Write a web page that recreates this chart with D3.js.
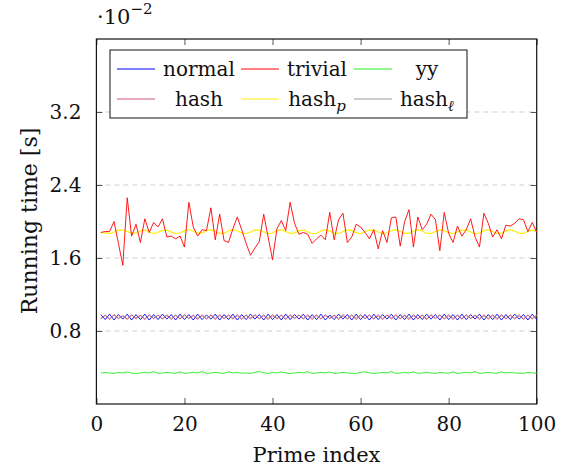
<!DOCTYPE html>
<html><head><meta charset="utf-8">
<script src="https://cdn.jsdelivr.net/npm/d3@7"></script>
<style>body{margin:0;background:#fff}svg{display:block}text{font-family:"DejaVu Serif",serif;fill:#111}</style>
</head><body><svg id="c" width="565" height="471"></svg>
<script>
const xTicks=[0,20,40,60,80,100];
const yTicks=[0.8,1.6,2.4,3.2];
const seriesNames=["normal","trivial","yy","hash","hash_p","hash_l"];
const trivial=[1.88,1.89,1.89,2.00,1.76,1.52,2.26,1.84,1.97,1.77,2.03,1.88,1.99,1.94,2.03,1.83,1.84,1.81,1.84,1.72,2.21,1.94,1.84,1.91,1.90,2.15,1.80,2.08,1.79,1.77,1.92,2.05,1.91,1.76,1.63,1.71,1.78,2.08,1.83,1.58,1.92,2.01,1.90,2.21,1.98,1.86,1.88,1.86,1.76,1.81,1.85,1.80,2.10,1.80,2.02,2.09,1.77,1.83,1.97,1.94,1.88,1.81,1.91,1.70,1.90,1.77,2.04,2.05,1.73,2.00,2.13,1.72,2.05,1.91,1.97,2.08,2.02,1.68,2.10,1.87,1.77,1.95,1.84,1.91,2.03,1.83,1.72,2.09,1.98,1.83,1.91,1.81,1.96,1.95,1.98,2.03,2.02,1.89,1.99,1.88];
const hashP=[1.88,1.875,1.87,1.885,1.905,1.905,1.89,1.87,1.875,1.9,1.905,1.885,1.87,1.88,1.9,1.905,1.885,1.868,1.875,1.9,1.91,1.895,1.872,1.875,1.9,1.908,1.89,1.87,1.872,1.895,1.908,1.898,1.875,1.868,1.885,1.905,1.905,1.885,1.868,1.875,1.9,1.908,1.89,1.87,1.875,1.9,1.905,1.888,1.868,1.872,1.895,1.908,1.895,1.872,1.87,1.89,1.908,1.9,1.878,1.868,1.885,1.905,1.905,1.885,1.868,1.875,1.9,1.908,1.89,1.87,1.872,1.895,1.908,1.895,1.872,1.87,1.89,1.908,1.9,1.878,1.868,1.885,1.905,1.905,1.885,1.868,1.875,1.9,1.908,1.89,1.87,1.872,1.895,1.908,1.895,1.872,1.87,1.89,1.905,1.89];
const normal=[0.98,0.925,0.985,0.92,0.98,0.93,0.985,0.92,0.98,0.925,0.985,0.92,0.98,0.925,0.985,0.93,0.98,0.92,0.985,0.925,0.98,0.92,0.985,0.925,0.975,0.93,0.985,0.92,0.98,0.925,0.985,0.92,0.98,0.925,0.985,0.93,0.98,0.92,0.985,0.925,0.98,0.92,0.985,0.925,0.98,0.93,0.985,0.92,0.98,0.925,0.985,0.92,0.975,0.925,0.985,0.93,0.98,0.92,0.985,0.925,0.98,0.92,0.985,0.925,0.98,0.93,0.985,0.92,0.98,0.925,0.985,0.92,0.98,0.925,0.985,0.93,0.98,0.92,0.985,0.925,0.98,0.92,0.985,0.925,0.98,0.93,0.985,0.92,0.98,0.925,0.985,0.92,0.98,0.925,0.985,0.93,0.98,0.92,0.985,0.925];
const hash=[0.93,0.975,0.925,0.98,0.935,0.97,0.925,0.98,0.93,0.975,0.925,0.98,0.935,0.975,0.93,0.98,0.925,0.975,0.93,0.98,0.935,0.97,0.925,0.98,0.93,0.975,0.925,0.98,0.935,0.975,0.93,0.98,0.925,0.975,0.93,0.98,0.935,0.97,0.925,0.98,0.93,0.975,0.925,0.98,0.935,0.975,0.93,0.98,0.925,0.975,0.93,0.98,0.935,0.97,0.925,0.98,0.93,0.975,0.925,0.98,0.935,0.975,0.93,0.98,0.925,0.975,0.93,0.98,0.935,0.97,0.925,0.98,0.93,0.975,0.925,0.98,0.935,0.975,0.93,0.98,0.925,0.975,0.93,0.98,0.935,0.97,0.925,0.98,0.93,0.975,0.925,0.98,0.935,0.975,0.93,0.98,0.925,0.975,0.93,0.975];
const hashL=[0.94,0.97,0.935,0.975,0.94,0.965,0.935,0.975,0.945,0.97,0.935,0.97,0.94,0.975,0.935,0.965,0.94,0.975,0.935,0.97,0.94,0.975,0.94,0.965,0.935,0.975,0.94,0.97,0.935,0.975,0.94,0.965,0.935,0.975,0.945,0.97,0.935,0.975,0.94,0.965,0.94,0.975,0.935,0.97,0.94,0.975,0.935,0.965,0.94,0.975,0.935,0.97,0.94,0.975,0.94,0.965,0.935,0.975,0.94,0.97,0.935,0.975,0.94,0.965,0.935,0.975,0.945,0.97,0.935,0.975,0.94,0.965,0.94,0.975,0.935,0.97,0.94,0.975,0.935,0.965,0.94,0.975,0.935,0.97,0.94,0.975,0.94,0.965,0.935,0.975,0.94,0.97,0.935,0.975,0.94,0.965,0.935,0.975,0.94,0.97];
const yy=[0.34,0.345,0.34,0.335,0.348,0.34,0.352,0.338,0.335,0.34,0.346,0.34,0.355,0.336,0.34,0.346,0.34,0.338,0.352,0.335,0.34,0.347,0.34,0.356,0.335,0.34,0.346,0.34,0.336,0.352,0.34,0.346,0.338,0.34,0.335,0.347,0.356,0.34,0.335,0.346,0.34,0.352,0.34,0.335,0.34,0.347,0.34,0.355,0.335,0.34,0.346,0.34,0.352,0.335,0.34,0.346,0.34,0.338,0.335,0.347,0.352,0.34,0.335,0.34,0.346,0.34,0.356,0.335,0.34,0.346,0.34,0.352,0.335,0.34,0.347,0.34,0.335,0.346,0.34,0.338,0.352,0.335,0.34,0.346,0.34,0.355,0.335,0.34,0.347,0.34,0.336,0.352,0.34,0.346,0.34,0.338,0.335,0.347,0.34,0.34];

const svg=d3.select("#c");
const L=96.4,R=536.7,T=39,B=404;
const x=d3.scaleLinear().domain([0,100]).range([L,R]);
const y=d3.scaleLinear().domain([0,4]).range([B,T]);

svg.append("g").selectAll("line").data(yTicks).join("line")
 .attr("x1",L).attr("x2",R).attr("y1",d=>y(d)).attr("y2",d=>y(d))
 .attr("stroke","#cfcfcf").attr("stroke-width",1).attr("stroke-dasharray","5,4");

const tl=6;
const ax=svg.append("g").attr("transform",`translate(0,${B})`).call(d3.axisBottom(x).tickValues(xTicks).tickSize(-tl).tickPadding(tl+7).tickFormat(d3.format("d")));
const ax2=svg.append("g").attr("transform",`translate(0,${T})`).call(d3.axisTop(x).tickValues(xTicks).tickSize(-tl).tickFormat(""));
const ay=svg.append("g").attr("transform",`translate(${L},0)`).call(d3.axisLeft(y).tickValues(yTicks).tickSize(-tl).tickPadding(tl+9).tickFormat(d3.format(".1f")));
const ay2=svg.append("g").attr("transform",`translate(${R},0)`).call(d3.axisRight(y).tickValues(yTicks).tickSize(-tl).tickFormat(""));
[ax,ax2,ay,ay2].forEach(g=>{g.select(".domain").remove();g.selectAll(".tick line").attr("stroke","#555").attr("stroke-width",1);
 g.selectAll("text").style("font-family","DejaVu Serif").attr("font-size",20).attr("fill","#111");});
ax.selectAll("text").attr("dy","0.7em");
svg.append("rect").attr("x",L).attr("y",T).attr("width",R-L).attr("height",B-T).attr("fill","none").attr("stroke","#111").attr("stroke-width",1.2);

function draw(data,color,curve,w){
  const line=d3.line().x((d,i)=>x(i+1)).y(d=>y(d)).curve(curve||d3.curveLinear);
  svg.append("path").datum(data).attr("d",line).attr("fill","none").attr("stroke",color).attr("stroke-width",w||0.9).attr("stroke-linejoin","round");
}
const colors={normal:"#0000ff",trivial:"#ff0000",yy:"#22ee22",hash:"#d0507f",hash_p:"#ffee00",hash_l:"#999999"};
draw(yy,colors.yy);
draw(normal,colors.normal);
draw(hashL,colors.hash_l);
draw(hash,colors.hash);
draw(hashP,colors.hash_p,d3.curveMonotoneX,1.1);
draw(trivial,colors.trivial);

const sc=svg.append("text").attr("x",97).attr("y",24).attr("font-size",21);
sc.append("tspan").text("·10");
sc.append("tspan").attr("dy",-10).attr("font-size",15).text("−2");

svg.append("text").attr("x",(L+R)/2).attr("y",462).attr("text-anchor","middle").attr("font-size",21).text("Prime index");
svg.append("text").attr("transform","translate(37,221) rotate(-90)").attr("text-anchor","middle").attr("font-size",22).text("Running time [s]");

const lg=svg.append("g");
lg.append("rect").attr("x",110).attr("y",50).attr("width",357).attr("height",68).attr("fill","#fff").attr("stroke","#111").attr("stroke-width",1);
const items=[
 {k:"normal",t:"normal",col:0,row:0},{k:"trivial",t:"trivial",col:1,row:0},{k:"yy",t:"yy",col:2,row:0},
 {k:"hash",t:"hash",col:0,row:1},{k:"hash_p",t:"hash",sub:"p",col:1,row:1},{k:"hash_l",t:"hash",sub:"ℓ",col:2,row:1}];
const sx=[117,241,354], tc=[199,317,427], ry=[69,99];
items.forEach(it=>{
  lg.append("line").attr("x1",sx[it.col]).attr("x2",sx[it.col]+38).attr("y1",ry[it.row]).attr("y2",ry[it.row]).attr("stroke",colors[it.k]).attr("stroke-width",1);
  const t=lg.append("text").attr("x",tc[it.col]).attr("y",ry[it.row]+7).attr("text-anchor","middle").attr("font-size",20);
  t.append("tspan").text(it.t);
  if(it.sub){t.append("tspan").attr("dy",5).attr("font-size",15).attr("font-style","italic").text(it.sub);}
});
</script></body></html>
